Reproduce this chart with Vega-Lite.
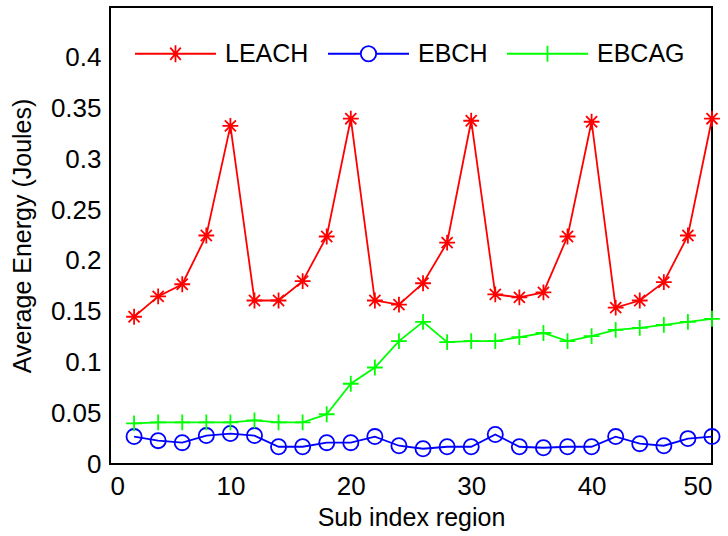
{
  "$schema": "https://vega.github.io/schema/vega-lite/v6.json",
  "width": 602,
  "height": 457,
  "autosize": {"type": "none"},
  "padding": {"left": 110, "top": 7, "right": 16, "bottom": 72},
  "background": "white",
  "config": {
    "font": "Liberation Sans",
    "view": {"stroke": "black", "strokeWidth": 2},
    "axis": {
      "domain": false,
      "ticks": false,
      "grid": false,
      "labelFont": "Liberation Sans",
      "labelFontSize": 26,
      "labelColor": "black",
      "titleFont": "Liberation Sans",
      "titleFontSize": 25,
      "titleFontWeight": "normal",
      "titleColor": "black"
    },
    "legend": {"labelFont": "Liberation Sans"}
  },
  "datasets": {
    "xticks": [{"x": 0}, {"x": 10}, {"x": 20}, {"x": 30}, {"x": 40}, {"x": 50}],
    "yticks": [{"e": 0}, {"e": 0.05}, {"e": 0.1}, {"e": 0.15}, {"e": 0.2}, {"e": 0.25}, {"e": 0.3}, {"e": 0.35}, {"e": 0.4}]
  },
  "data": {
    "values": [
      {"x": 2, "s": "LEACH", "e": 0.145}, {"x": 4, "s": "LEACH", "e": 0.165}, {"x": 6, "s": "LEACH", "e": 0.177}, {"x": 8, "s": "LEACH", "e": 0.225}, {"x": 10, "s": "LEACH", "e": 0.333},
      {"x": 12, "s": "LEACH", "e": 0.161}, {"x": 14, "s": "LEACH", "e": 0.161}, {"x": 16, "s": "LEACH", "e": 0.180}, {"x": 18, "s": "LEACH", "e": 0.224}, {"x": 20, "s": "LEACH", "e": 0.340},
      {"x": 22, "s": "LEACH", "e": 0.161}, {"x": 24, "s": "LEACH", "e": 0.157}, {"x": 26, "s": "LEACH", "e": 0.178}, {"x": 28, "s": "LEACH", "e": 0.218}, {"x": 30, "s": "LEACH", "e": 0.338},
      {"x": 32, "s": "LEACH", "e": 0.167}, {"x": 34, "s": "LEACH", "e": 0.164}, {"x": 36, "s": "LEACH", "e": 0.169}, {"x": 38, "s": "LEACH", "e": 0.224}, {"x": 40, "s": "LEACH", "e": 0.337},
      {"x": 42, "s": "LEACH", "e": 0.154}, {"x": 44, "s": "LEACH", "e": 0.161}, {"x": 46, "s": "LEACH", "e": 0.179}, {"x": 48, "s": "LEACH", "e": 0.225}, {"x": 50, "s": "LEACH", "e": 0.340},
      {"x": 2, "s": "EBCH", "e": 0.027}, {"x": 4, "s": "EBCH", "e": 0.023}, {"x": 6, "s": "EBCH", "e": 0.021}, {"x": 8, "s": "EBCH", "e": 0.028}, {"x": 10, "s": "EBCH", "e": 0.030},
      {"x": 12, "s": "EBCH", "e": 0.028}, {"x": 14, "s": "EBCH", "e": 0.017}, {"x": 16, "s": "EBCH", "e": 0.017}, {"x": 18, "s": "EBCH", "e": 0.021}, {"x": 20, "s": "EBCH", "e": 0.021},
      {"x": 22, "s": "EBCH", "e": 0.027}, {"x": 24, "s": "EBCH", "e": 0.018}, {"x": 26, "s": "EBCH", "e": 0.015}, {"x": 28, "s": "EBCH", "e": 0.017}, {"x": 30, "s": "EBCH", "e": 0.017},
      {"x": 32, "s": "EBCH", "e": 0.029}, {"x": 34, "s": "EBCH", "e": 0.017}, {"x": 36, "s": "EBCH", "e": 0.016}, {"x": 38, "s": "EBCH", "e": 0.017}, {"x": 40, "s": "EBCH", "e": 0.017},
      {"x": 42, "s": "EBCH", "e": 0.027}, {"x": 44, "s": "EBCH", "e": 0.020}, {"x": 46, "s": "EBCH", "e": 0.018}, {"x": 48, "s": "EBCH", "e": 0.025}, {"x": 50, "s": "EBCH", "e": 0.027},
      {"x": 2, "s": "EBCAG", "e": 0.040}, {"x": 4, "s": "EBCAG", "e": 0.041}, {"x": 6, "s": "EBCAG", "e": 0.041}, {"x": 8, "s": "EBCAG", "e": 0.041}, {"x": 10, "s": "EBCAG", "e": 0.041},
      {"x": 12, "s": "EBCAG", "e": 0.043}, {"x": 14, "s": "EBCAG", "e": 0.041}, {"x": 16, "s": "EBCAG", "e": 0.041}, {"x": 18, "s": "EBCAG", "e": 0.049}, {"x": 20, "s": "EBCAG", "e": 0.079},
      {"x": 22, "s": "EBCAG", "e": 0.095}, {"x": 24, "s": "EBCAG", "e": 0.121}, {"x": 26, "s": "EBCAG", "e": 0.140}, {"x": 28, "s": "EBCAG", "e": 0.120}, {"x": 30, "s": "EBCAG", "e": 0.121},
      {"x": 32, "s": "EBCAG", "e": 0.121}, {"x": 34, "s": "EBCAG", "e": 0.125}, {"x": 36, "s": "EBCAG", "e": 0.129}, {"x": 38, "s": "EBCAG", "e": 0.121}, {"x": 40, "s": "EBCAG", "e": 0.126},
      {"x": 42, "s": "EBCAG", "e": 0.132}, {"x": 44, "s": "EBCAG", "e": 0.134}, {"x": 46, "s": "EBCAG", "e": 0.137}, {"x": 48, "s": "EBCAG", "e": 0.140}, {"x": 50, "s": "EBCAG", "e": 0.143}
    ]
  },
  "encoding": {
    "x": {"field": "x", "type": "quantitative", "scale": {"domain": [0, 50], "nice": false},
          "axis": {"values": [0, 10, 20, 30, 40, 50], "title": "Sub index region", "labelPadding": 9, "titlePadding": 6}},
    "y": {"field": "e", "type": "quantitative", "scale": {"domain": [0, 0.45], "nice": false},
          "axis": {"values": [0, 0.05, 0.1, 0.15, 0.2, 0.25, 0.3, 0.35, 0.4], "format": "~g", "title": "Average Energy (Joules)", "labelPadding": 9, "titlePadding": 15}}
  },
  "layer": [
    {
      "transform": [{"filter": "datum.s === 'LEACH'"}],
      "mark": {"type": "line", "strokeWidth": 1.8, "color": "#ff0000"}
    },
    {
      "transform": [{"filter": "datum.s === 'EBCH'"}],
      "mark": {"type": "line", "strokeWidth": 1.8, "color": "#0000ff"}
    },
    {
      "transform": [{"filter": "datum.s === 'EBCAG'"}],
      "mark": {"type": "line", "strokeWidth": 1.8, "color": "#00ff00"}
    },
    {
      "transform": [{"filter": "datum.s === 'LEACH'"}],
      "mark": {"type": "point", "filled": false, "strokeWidth": 1.8, "size": 250, "opacity": 1, "color": "#ff0000",
               "shape": "M-1,0L1,0M0,-1L0,1M-0.7,-0.7L0.7,0.7M-0.7,0.7L0.7,-0.7"}
    },
    {
      "transform": [{"filter": "datum.s === 'EBCH'"}],
      "mark": {"type": "point", "filled": false, "strokeWidth": 1.8, "size": 230, "opacity": 1, "color": "#0000ff", "shape": "circle"}
    },
    {
      "transform": [{"filter": "datum.s === 'EBCAG'"}],
      "mark": {"type": "point", "filled": false, "strokeWidth": 1.8, "size": 250, "opacity": 1, "color": "#00ff00",
               "shape": "M-1,0L1,0M0,-1L0,1"}
    },
    {
      "data": {"name": "xticks"},
      "mark": {"type": "point", "filled": false, "strokeWidth": 1.5, "size": 196, "opacity": 1, "color": "black", "shape": "M0,0L0,-1"},
      "encoding": {"y": {"datum": 0, "type": "quantitative"}}
    },
    {
      "data": {"name": "xticks"},
      "mark": {"type": "point", "filled": false, "strokeWidth": 1.5, "size": 196, "opacity": 1, "color": "black", "shape": "M0,0L0,1"},
      "encoding": {"y": {"datum": 0.45, "type": "quantitative"}}
    },
    {
      "data": {"name": "yticks"},
      "mark": {"type": "point", "filled": false, "strokeWidth": 1.5, "size": 196, "opacity": 1, "color": "black", "shape": "M0,0L1,0"},
      "encoding": {"x": {"datum": 0, "type": "quantitative"}}
    },
    {
      "data": {"name": "yticks"},
      "mark": {"type": "point", "filled": false, "strokeWidth": 1.5, "size": 196, "opacity": 1, "color": "black", "shape": "M0,0L-1,0"},
      "encoding": {"x": {"datum": 50, "type": "quantitative"}}
    },
    {
      "mark": {"type": "point", "filled": false, "opacity": 0, "strokeWidth": 1.8},
      "encoding": {
        "color": {"field": "s", "type": "nominal", "sort": ["LEACH", "EBCH", "EBCAG"],
                  "scale": {"domain": ["LEACH", "EBCH", "EBCAG"], "range": ["#ff0000", "#0000ff", "#00ff00"]},
                  "legend": {
                    "title": null, "orient": "none", "legendX": 24, "legendY": 5, "direction": "horizontal", "columns": 3,
                    "padding": 0, "columnPadding": 15, "labelOffset": 8, "labelFontSize": 25, "labelColor": "black",
                    "symbolSize": 6561, "symbolStrokeWidth": 1.8, "symbolOpacity": 1, "symbolFillColor": "transparent"
                  }},
        "shape": {"field": "s", "type": "nominal", "sort": ["LEACH", "EBCH", "EBCAG"],
                  "scale": {"domain": ["LEACH", "EBCH", "EBCAG"],
                            "range": ["M-1,0L1,0M0,-0.21L0,0.21M-0.13,-0.15L0.13,0.15M-0.13,0.15L0.13,-0.15M-0.16,0L0.16,0",
                                      "M-1,0L-0.19,0M0.19,0L1,0M0.19,0A0.19,0.19 0 1,1 -0.19,0A0.19,0.19 0 1,1 0.19,0",
                                      "M-1,0L1,0M0,-0.2L0,0.2"]},
                  "legend": {
                    "title": null, "orient": "none", "legendX": 24, "legendY": 5, "direction": "horizontal", "columns": 3,
                    "padding": 0, "columnPadding": 15, "labelOffset": 8, "labelFontSize": 25, "labelColor": "black",
                    "symbolSize": 6561, "symbolStrokeWidth": 1.8, "symbolOpacity": 1, "symbolFillColor": "transparent"
                  }}
      }
    }
  ]
}
